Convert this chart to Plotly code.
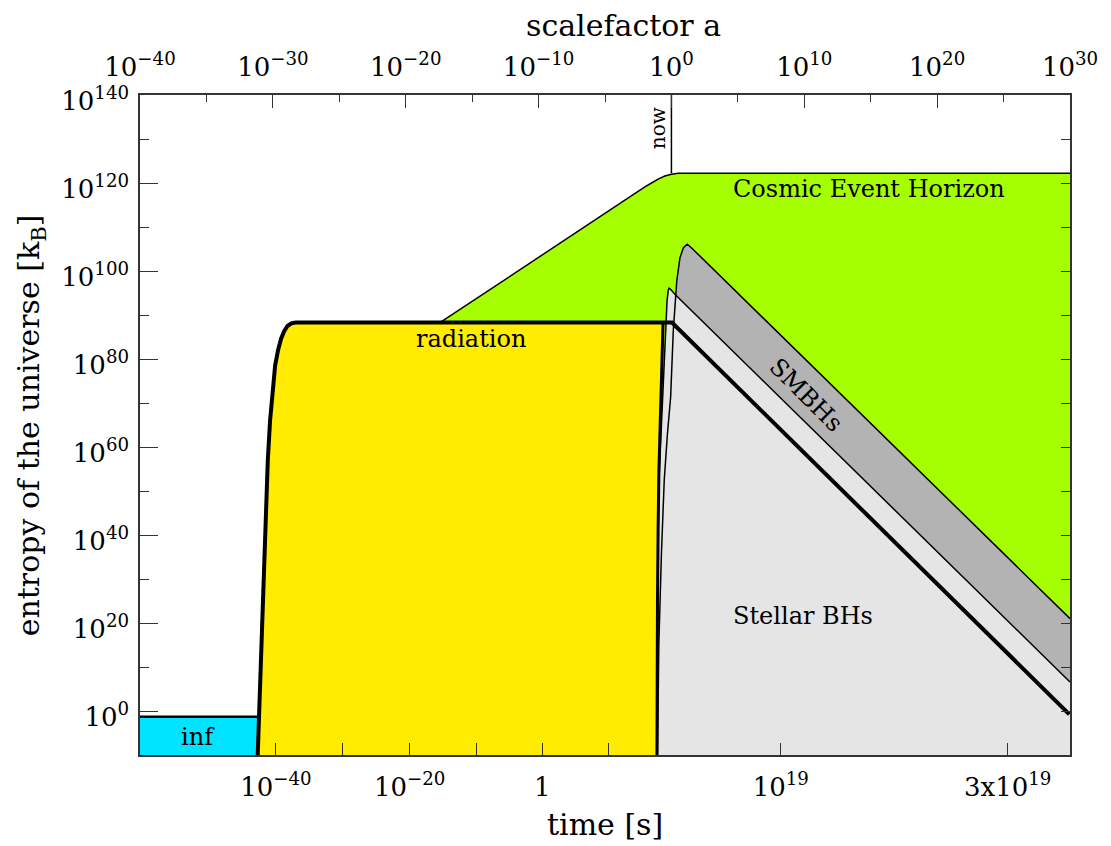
"""
Entropy of the universe against scalefactor (and time), drawn with plotly.
"""
import plotly.graph_objects as go

# log10 of the scalefactor a (x) and log10 of the entropy in k_B (y)
INF_LA = [-40.0, -31.14]
INF_TOP = -1.3

RAD_LA = [-31.14, -31.05, -30.97, -30.87, -30.77, -30.65, -30.52, -30.38, -30.21, -30.03,
          -29.83, -29.61, -29.38, -29.15, -28.9, -28.6, -28.3, -0.63, -0.66, -0.71,
          -0.78, -0.86, -0.94, -1.0, -1.05, -1.09]
RAD_LS = [-10, -2, 6, 15, 25, 36, 47, 57, 66, 73,
          78.5, 82, 84.6, 86.3, 87.5, 88.1, 88.3, 88.3, 85.5, 81,
          74, 65, 55, 42, 25, -10]
N_LEFT = 17  # points of the rise plus the plateau start

# radiation after the stars/BHs take over (thick line going down)
DIL_LA = [-0.63, 0.04, 29.95]
DIL_LS = [88.3, 88.3, -0.75]

HOR_LA = [-17.4, -5.4, -3.0, -2.0, -1.5, -1.0, -0.5, 0.0, 0.5, 30.0]
HOR_LS = [88.3, 112.4, 117.2, 119.1, 120.0, 120.9, 121.6, 122.0, 122.2, 122.2]

SMBH_LA = [-1.05, -0.95, -0.75, -0.54, -0.3, -0.06, 0.14, 0.40, 0.64, 0.9, 1.19, 1.5, 30.0]
SMBH_LS = [-10, 15, 36, 52.5, 63, 71.3, 86.4, 97.7, 103.0, 105.3, 106.1, 105.3, 21.0]

STAR_LA = [-1.09, -1.07, -1.02, -0.94, -0.8, -0.63, -0.44, -0.33, -0.24, -0.18, -0.05, 0.26, 30.0]
STAR_LS = [-10, 15, 35, 52.5, 62, 70.6, 86.4, 93.2, 95.6, 96.1, 95.8, 94.7, 6.6]

NOW_LA = 0.0

# axis ticks
TOP_TICKS = [-40, -30, -20, -10, 0, 10, 20, 30]
TOP_TEXT = ['10<sup>\u221240</sup>', '10<sup>\u221230</sup>', '10<sup>\u221220</sup>',
            '10<sup>\u221210</sup>', '10<sup>0</sup>', '10<sup>10</sup>',
            '10<sup>20</sup>', '10<sup>30</sup>']
TIME_TICKS = [-29.77, -24.76, -19.7, -14.7, -9.73, -4.7, 8.23, 25.31]
TIME_TEXT = ['10<sup>\u221240</sup>', '', '10<sup>\u221220</sup>', '', '1', '',
             '10<sup>19</sup>', '3x10<sup>19</sup>']
Y_TICKS = [0, 20, 40, 60, 80, 100, 120, 140]
Y_TEXT = ['10<sup>%d</sup>' % v for v in Y_TICKS]

BOTTOM = -10
RIGHT = 30

FONT = 'DejaVu Serif'
GREEN = '#a6ff00'
YELLOW = '#ffec00'
CYAN = '#00e5ff'
DARK = '#b3b3b3'
LIGHT = '#e5e5e5'
AXIS = '#333333'


def fill(xs, ys, color):
    return go.Scatter(x=xs, y=ys, mode='lines', fill='toself', fillcolor=color,
                      line=dict(width=0), hoverinfo='skip', showlegend=False)


def line(xs, ys, width):
    return go.Scatter(x=xs, y=ys, mode='lines', line=dict(color='black', width=width),
                      hoverinfo='skip', showlegend=False)


fig = go.Figure()

# filled regions
fig.add_trace(fill(HOR_LA + [RIGHT, HOR_LA[0]], HOR_LS + [BOTTOM, BOTTOM], GREEN))
fig.add_trace(fill(RAD_LA, RAD_LS, YELLOW))
fig.add_trace(fill([INF_LA[0], INF_LA[1], INF_LA[1], INF_LA[0]],
                   [BOTTOM, BOTTOM, INF_TOP, INF_TOP], CYAN))
fig.add_trace(fill(SMBH_LA + [RIGHT], SMBH_LS + [BOTTOM], DARK))
fig.add_trace(fill(STAR_LA + [RIGHT], STAR_LS + [BOTTOM], LIGHT))

# outlines
fig.add_trace(line(HOR_LA, HOR_LS, 1.5))
fig.add_trace(line([NOW_LA, NOW_LA], [HOR_LS[-1], 140], 1.5))
fig.add_trace(line(SMBH_LA, SMBH_LS, 1.5))
fig.add_trace(line(STAR_LA, STAR_LS, 1.5))
fig.add_trace(line(INF_LA, [INF_TOP, INF_TOP], 2.5))
fig.add_trace(line(RAD_LA[:N_LEFT] + DIL_LA[1:], RAD_LS[:N_LEFT] + DIL_LS[1:], 4))
fig.add_trace(line(RAD_LA[N_LEFT:], RAD_LS[N_LEFT:], 3))

# dummy trace so the top / right axes get drawn
fig.add_trace(go.Scatter(x=[-40], y=[-10], xaxis='x2', yaxis='y2', mode='markers',
                         marker=dict(opacity=0), hoverinfo='skip', showlegend=False))

labels = [
    (14.87, 118.6, 'Cosmic Event Horizon', 0),
    (-15.09, 84.5, 'radiation', 0),
    (10.13, 71.8, 'SMBHs', 45),
    (9.9, 21.6, 'Stellar BHs', 0),
    (-35.6, -5.9, 'inf', 0),
]
for x, y, text, ang in labels:
    fig.add_annotation(x=x, y=y, text=text, showarrow=False, textangle=ang,
                       xanchor='center', yanchor='middle',
                       font=dict(family=FONT, size=24, color='black'))
fig.add_annotation(x=-1.0, y=132.5, text='now', showarrow=False, textangle=-90,
                   xanchor='center', yanchor='middle',
                   font=dict(family=FONT, size=20, color='black'))

# axis titles
title_font = dict(family=FONT, size=30, color='black')
fig.add_annotation(x=0.52, y=1.106, xref='paper', yref='paper', text='scalefactor a',
                   xanchor='center', yanchor='middle', showarrow=False, font=title_font)
fig.add_annotation(x=0.5, y=-0.106, xref='paper', yref='paper', text='time [s]',
                   xanchor='center', yanchor='middle', showarrow=False, font=title_font)
fig.add_annotation(x=-0.118, y=0.5, xref='paper', yref='paper', textangle=-90,
                   text='entropy of the universe [k<sub>B</sub>]',
                   xanchor='center', yanchor='middle', showarrow=False, font=title_font)

tick_font = dict(family=FONT, size=26, color='black')
fig.update_layout(
    width=1111, height=846,
    margin=dict(l=132, r=49, t=87, b=99),
    paper_bgcolor='white', plot_bgcolor='white',
    xaxis=dict(range=[-40, RIGHT], showgrid=False, zeroline=False, showline=True,
               linecolor=AXIS, linewidth=1.5, ticks='inside', ticklen=12,
               tickcolor=AXIS, tickwidth=1.2, tickmode='array', ticklabelstandoff=8,
               tickvals=TIME_TICKS, ticktext=TIME_TEXT, tickfont=tick_font),
    xaxis2=dict(range=[-40, RIGHT], overlaying='x', side='top', showgrid=False,
                zeroline=False, showline=True, linecolor=AXIS, linewidth=1.5,
                ticks='inside', ticklen=13, tickcolor=AXIS, tickwidth=1.2,
                tickmode='array', tickvals=TOP_TICKS, ticktext=TOP_TEXT,
                tickfont=tick_font, ticklabelstandoff=7,
                minor=dict(tickvals=[-35, -25, -15, -5, 5, 15, 25], ticklen=7,
                           ticks='inside', tickcolor=AXIS, tickwidth=1.2)),
    yaxis=dict(range=[BOTTOM, 140], showgrid=False, zeroline=False, showline=True,
               linecolor=AXIS, linewidth=1.5, ticks='inside', ticklen=18,
               tickcolor=AXIS, tickwidth=1.2, tickmode='array', ticklabelstandoff=4,
               ticklabelshift=6,
               tickvals=Y_TICKS, ticktext=Y_TEXT, tickfont=tick_font,
               minor=dict(tickvals=[10, 30, 50, 70, 90, 110, 130], ticklen=9,
                          ticks='inside', tickcolor=AXIS, tickwidth=1.2)),
    yaxis2=dict(range=[BOTTOM, 140], overlaying='y', side='right', showgrid=False,
                zeroline=False, showline=True, linecolor=AXIS, linewidth=1.5,
                ticks='inside', ticklen=9, tickcolor=AXIS, tickwidth=1.2,
                tickmode='array', tickvals=list(range(0, 141, 10)),
                showticklabels=False),
)

fig.write_html("out.html")
